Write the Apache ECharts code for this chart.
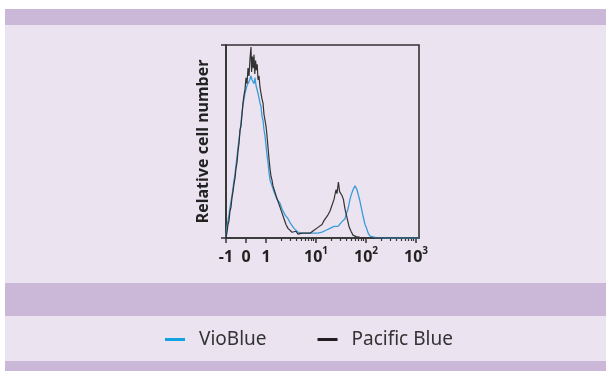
<!DOCTYPE html>
<html>
<head>
<meta charset="utf-8">
<script src="https://cdn.jsdelivr.net/npm/echarts@6/dist/echarts.min.js"></script>
<style>
html,body{margin:0;padding:0;background:#fff;}
#bg{position:absolute;left:5px;top:0;width:601px;height:371px;
background:linear-gradient(to bottom,#ffffff 0px,#ffffff 9px,#cbb8d9 9px,#cbb8d9 25px,#ebe3f0 25px,#ebe3f0 283px,#cbb8d9 283px,#cbb8d9 316px,#ebe3f0 316px,#ebe3f0 361px,#cbb8d9 361px,#cbb8d9 371px);}
#chart{position:absolute;left:0;top:0;width:606px;height:371px;}
</style>
</head>
<body>
<div id="bg"></div>
<div id="chart"></div>
<script>
// x values are in display (biexponential channel) units: -1,0,1 linear; then 2.5 units per decade
var tickPos = [-1, 0, 1, 3.5, 6, 8.5];
var tickBase = ['-1', '0', '1', '10', '10', '10'];
var tickExp = ['', '', '', '1', '2', '3'];

var vioX = [-1.00,-0.95,-0.90,-0.85,-0.80,-0.75,-0.70,-0.65,-0.60,-0.55,-0.50,-0.45,-0.40,-0.35,-0.30,-0.25,-0.20,-0.15,-0.10,-0.05,0.00,0.05,0.10,0.15,0.20,0.25,0.30,0.35,0.40,0.45,0.50,0.55,0.60,0.65,0.70,0.75,0.80,0.85,0.90,0.95,1.00,1.05,1.10,1.15,1.20,1.25,1.30,1.40,1.50,1.55,1.60,1.70,1.75,1.80,1.90,1.95,2.00,2.10,2.20,2.30,2.40,2.50,2.60,2.70,2.80,2.90,3.00,3.10,3.20,3.30,3.40,3.50,3.60,3.70,3.80,3.90,4.00,4.10,4.20,4.30,4.40,4.50,4.60,4.70,4.80,4.90,4.95,5.00,5.05,5.10,5.15,5.20,5.25,5.30,5.35,5.40,5.45,5.50,5.55,5.60,5.65,5.70,5.78,5.86,5.95,6.03,6.11,6.20,6.30,6.50,7.00,8.65];
var vioY = [0.5,6,9,12,16,19,22,26,30,33,38,42,47,51,55,60,65,69,72,75,76,79,78,81,80,84,82,83,80,83,79,80,75,75,70,68,63,61,56,53,48,43,39,34,30,29,27,24,23,20,21,18,19,15,14,12,12.5,10,8,7,5,4.5,3,3.5,2.5,3,2.5,3.5,2.5,3,2.5,3.5,2.5,3.5,3,4,4,4.5,5,5.5,6,6.5,6,7,8.5,9,10,12,13,15,17.5,20,22,23.5,25,26,27,26,25,23,21,19,15,11,7,5,2.5,1,0.5,0.2,0,0];

var pacX = [-1.00,-0.95,-0.90,-0.85,-0.80,-0.75,-0.70,-0.65,-0.60,-0.55,-0.50,-0.45,-0.40,-0.35,-0.30,-0.25,-0.20,-0.15,-0.10,-0.05,0.00,0.05,0.10,0.15,0.20,0.25,0.28,0.32,0.36,0.40,0.44,0.48,0.52,0.56,0.60,0.65,0.70,0.75,0.80,0.85,0.90,0.95,1.00,1.05,1.10,1.15,1.20,1.25,1.30,1.35,1.40,1.50,1.60,1.70,1.80,1.90,2.00,2.10,2.20,2.30,2.40,2.50,2.60,2.70,2.80,2.90,3.00,3.10,3.20,3.30,3.40,3.50,3.60,3.70,3.80,3.90,4.00,4.10,4.20,4.30,4.40,4.50,4.55,4.62,4.68,4.75,4.80,4.87,4.95,5.05,5.15,5.25,5.35,5.50,5.70,6.00,7.00,8.65];
var pacY = [0,3,7,9,14,16,21,24,28,31,36,39,45,49,56,58,64,70,74,77,83,80,88,84,93,99,86,94,88,95,85,92,87,90,82,84,78,79,72,70,64,63,58,53,47,41,36,32,30,27,26,22,19,16,13,10,7,5,4,3,2.5,3.5,2,3,2.5,3.5,2.5,3,2.5,3.5,4,5,5.5,6,7,9,10,12,14,17,20,25,23,29,24,25,22,20,15,10.5,6,3.5,1.5,0.7,0.3,0,0,0];

function pairs(xs, ys) { return xs.map(function (x, i) { return [x, ys[i]]; }); }

var minorTicks = [];
for (var d = 0; d < 3; d++) for (var m = 2; m <= 9; m++) minorTicks.push(1 + 2.5 * (d + Math.log10(m)));

var FONT = 'Noto Sans';
var AX = '#333333';
var chart = echarts.init(document.getElementById('chart'), null, { renderer: 'canvas' });
chart.setOption({
  backgroundColor: 'transparent',
  animation: false,
  grid: [
    { left: 226, top: 45, width: 193, height: 193, show: true, borderColor: AX, borderWidth: 1.6, backgroundColor: 'transparent' },
    { left: 226, top: 45, width: 193, height: 193 }
  ],
  legend: {
    left: 160, top: 325,
    icon: 'rect', itemWidth: 20, itemHeight: 3, itemGap: 51,
    textStyle: { fontFamily: FONT, fontSize: 19, color: '#333', padding: [0, 0, 0, 9] },
    data: [
      { name: 'VioBlue', itemStyle: { color: '#12a3e3' } },
      { name: 'Pacific Blue', itemStyle: { color: '#231f20' } }
    ]
  },
  xAxis: [
    {
      type: 'value', gridIndex: 0, min: -1, max: 8.65,
      axisLine: { show: true, onZero: false, lineStyle: { color: AX, width: 1.6 } },
      splitLine: { show: false },
      axisTick: { show: true, length: 5, customValues: tickPos, lineStyle: { color: AX, width: 1.5 } },
      axisLabel: {
        customValues: tickPos, margin: 8,
        formatter: function (v) {
          var i = tickPos.indexOf(v);
          if (i < 0) return '';
          return tickExp[i] ? '{b|' + tickBase[i] + '}{s|' + tickExp[i] + '}' : '{b|' + tickBase[i] + '}';
        },
        rich: {
          b: { fontFamily: FONT, fontWeight: 'bold', fontSize: 16, color: '#222', lineHeight: 19, verticalAlign: 'bottom' },
          s: { fontFamily: FONT, fontWeight: 'bold', fontSize: 10, color: '#222', lineHeight: 19, verticalAlign: 'top', padding: [0, 0, 8, 0] }
        }
      }
    },
    {
      type: 'value', gridIndex: 1, min: -1, max: 8.65,
      axisLine: { show: false },
      splitLine: { show: false },
      axisTick: { show: true, length: 3, customValues: minorTicks, lineStyle: { color: AX, width: 1.2 } },
      axisLabel: { show: false }
    }
  ],
  yAxis: [
    {
      type: 'value', gridIndex: 0, min: 0, max: 100, interval: 100,
      axisLine: { show: true, onZero: false, lineStyle: { color: AX, width: 1.6 } },
      axisTick: { show: true, length: 5, lineStyle: { color: AX, width: 1.5 } },
      axisLabel: { show: false },
      splitLine: { show: false },
      name: 'Relative cell number', nameLocation: 'middle', nameGap: 15,
      nameTextStyle: { fontFamily: FONT, fontWeight: 'bold', fontSize: 16, color: '#222' }
    },
    { type: 'value', gridIndex: 1, min: 0, max: 100, show: false }
  ],
  series: [
    {
      name: 'VioBlue', type: 'line', xAxisIndex: 0, yAxisIndex: 0, showSymbol: false, symbol: 'none',
      data: pairs(vioX, vioY), lineStyle: { color: '#3a9bd8', width: 1.3 }, itemStyle: { color: '#3a9bd8' }
    },
    {
      name: 'Pacific Blue', type: 'line', xAxisIndex: 0, yAxisIndex: 0, showSymbol: false, symbol: 'none',
      data: pairs(pacX, pacY), lineStyle: { color: '#333333', width: 1.2 }, itemStyle: { color: '#333333' }
    }
  ]
});
</script>
</body>
</html>
